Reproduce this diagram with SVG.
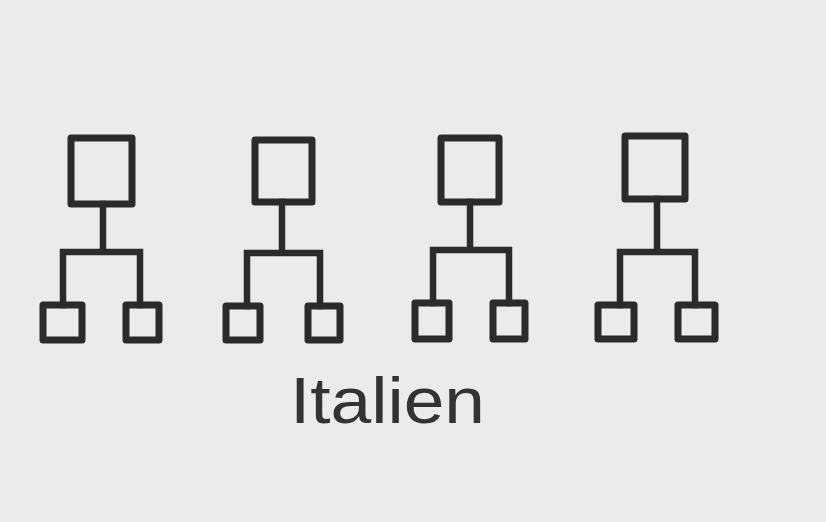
<svg xmlns="http://www.w3.org/2000/svg" width="826" height="522" viewBox="0 0 826 522">
<style>
.box{fill:none;stroke:#2b2b2b;stroke-width:7;stroke-linejoin:round}
.wire{fill:none;stroke:#2b2b2b;stroke-width:6.5;stroke-linejoin:miter;stroke-linecap:square}
.lbl{font-family:"Liberation Sans",Arial,sans-serif;font-size:65px;fill:#333}
</style>
<rect x="0" y="0" width="826" height="522" fill="#ebebeb"/>
<g id="connectors">
<path class="wire" d="M103,204 V252 M63,305 V252 H140 V305"/>
<path class="wire" d="M282,202 V253 M247,306 V253 H320 V306"/>
<path class="wire" d="M470,202 V250 M433,303 V250 H509 V303"/>
<path class="wire" d="M657,199 V252 M620,305 V252 H695 V305"/>
</g>
<g id="t1-top"><rect class="box" x="71" y="138" width="61" height="66"/></g>
<g id="t1-left"><rect class="box" x="43" y="305" width="39" height="35"/></g>
<g id="t1-right"><rect class="box" x="126" y="305" width="33" height="35"/></g>
<g id="t2-top"><rect class="box" x="255" y="140" width="57" height="62"/></g>
<g id="t2-left"><rect class="box" x="226" y="306" width="34" height="34"/></g>
<g id="t2-right"><rect class="box" x="308" y="306" width="32" height="34"/></g>
<g id="t3-top"><rect class="box" x="441" y="138" width="58" height="64"/></g>
<g id="t3-left"><rect class="box" x="415" y="303" width="34" height="36"/></g>
<g id="t3-right"><rect class="box" x="493" y="303" width="32" height="36"/></g>
<g id="t4-top"><rect class="box" x="625" y="136" width="60" height="63"/></g>
<g id="t4-left"><rect class="box" x="598" y="305" width="36" height="34"/></g>
<g id="t4-right"><rect class="box" x="678" y="305" width="37" height="34"/></g>
<g id="label"><text class="lbl" x="290" y="423" textLength="195" lengthAdjust="spacingAndGlyphs">Italien</text></g>
</svg>
